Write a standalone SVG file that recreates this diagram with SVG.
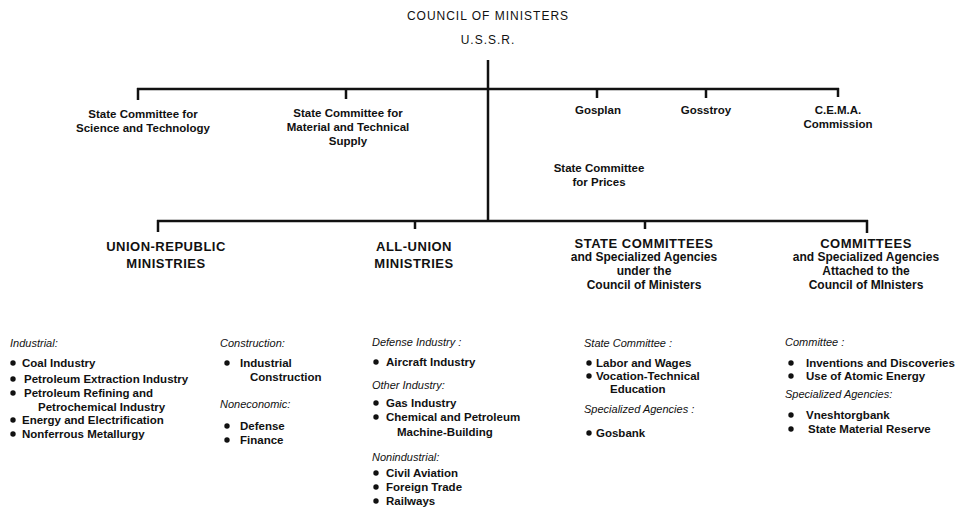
<svg xmlns="http://www.w3.org/2000/svg" width="957" height="510" viewBox="0 0 957 510">
<style>
text{font-family:"Liberation Sans",Arial,sans-serif;fill:#111}
.t{font-size:12px;letter-spacing:1px;text-anchor:middle}
.l{font-size:11.5px;font-weight:bold;text-anchor:middle}
.h{font-size:13px;font-weight:bold;text-anchor:middle;letter-spacing:0.5px}
.s{font-size:12px;font-weight:bold;text-anchor:middle}
.i{font-size:11px;font-style:italic}
.b{font-size:11.5px;font-weight:bold}
.c line{stroke:#111;stroke-width:2.5}
.d{fill:#111}
</style>
<rect width="957" height="510" fill="#fff"/>
<g id="connectors" class="c">
<line x1="488" y1="60" x2="488" y2="222"/>
<line x1="137" y1="89" x2="839" y2="89"/>
<line x1="138" y1="88" x2="138" y2="100"/>
<line x1="346" y1="88" x2="346" y2="99"/>
<line x1="597" y1="88" x2="597" y2="98"/>
<line x1="706" y1="88" x2="706" y2="98"/>
<line x1="838" y1="88" x2="838" y2="97"/>
<line x1="157" y1="221" x2="868" y2="221"/>
<line x1="158" y1="220" x2="158" y2="232"/>
<line x1="415" y1="220" x2="415" y2="229"/>
<line x1="645" y1="220" x2="645" y2="229"/>
<line x1="867" y1="220" x2="867" y2="233"/>
</g>
<g id="council">
<text class="t" x="488" y="20">COUNCIL OF MINISTERS</text>
<text class="t" x="488" y="44">U.S.S.R.</text>
</g>
<g id="sc-science">
<text class="l" x="143" y="118">State Committee for</text>
<text class="l" x="143" y="132">Science and Technology</text>
</g>
<g id="sc-supply">
<text class="l" x="348" y="117">State Committee for</text>
<text class="l" x="348" y="131">Material and Technical</text>
<text class="l" x="348" y="145">Supply</text>
</g>
<g id="gosplan"><text class="l" x="598" y="114">Gosplan</text></g>
<g id="gosstroy"><text class="l" x="706" y="114">Gosstroy</text></g>
<g id="cema">
<text class="l" x="838" y="114">C.E.M.A.</text>
<text class="l" x="838" y="128">Commission</text>
</g>
<g id="sc-prices">
<text class="l" x="599" y="172">State Committee</text>
<text class="l" x="599" y="186">for Prices</text>
</g>
<g id="union-republic">
<text class="h" x="166" y="251">UNION-REPUBLIC</text>
<text class="h" x="166" y="268">MINISTRIES</text>
</g>
<g id="all-union">
<text class="h" x="414" y="251">ALL-UNION</text>
<text class="h" x="414" y="268">MINISTRIES</text>
</g>
<g id="state-committees">
<text class="h" x="644" y="248">STATE COMMITTEES</text>
<text class="s" x="644" y="261">and Specialized Agencies</text>
<text class="s" x="644" y="275">under the</text>
<text class="s" x="644" y="289">Council of Ministers</text>
</g>
<g id="committees">
<text class="h" x="866" y="248">COMMITTEES</text>
<text class="s" x="866" y="261">and Specialized Agencies</text>
<text class="s" x="866" y="275">Attached to the</text>
<text class="s" x="866" y="289">Council of MInisters</text>
</g>
<g id="list-union-republic-industrial">
<text class="i" x="10" y="347">Industrial:</text>
<circle class="d" cx="13" cy="363" r="2.7"/><text class="b" x="22" y="367">Coal Industry</text>
<circle class="d" cx="13" cy="379" r="2.7"/><text class="b" x="24" y="383">Petroleum Extraction Industry</text>
<circle class="d" cx="13" cy="393" r="2.7"/><text class="b" x="24" y="397">Petroleum Refining and</text>
<text class="b" x="38" y="411">Petrochemical Industry</text>
<circle class="d" cx="13" cy="420" r="2.7"/><text class="b" x="22" y="424">Energy and Electrification</text>
<circle class="d" cx="13" cy="434" r="2.7"/><text class="b" x="22" y="438">Nonferrous Metallurgy</text>
</g>
<g id="list-union-republic-other">
<text class="i" x="220" y="347">Construction:</text>
<circle class="d" cx="227" cy="363" r="2.7"/><text class="b" x="240" y="367">Industrial</text>
<text class="b" x="250" y="381">Construction</text>
<text class="i" x="220" y="408">Noneconomic:</text>
<circle class="d" cx="227" cy="426" r="2.7"/><text class="b" x="240" y="430">Defense</text>
<circle class="d" cx="227" cy="440" r="2.7"/><text class="b" x="240" y="444">Finance</text>
</g>
<g id="list-all-union">
<text class="i" x="372" y="346">Defense Industry :</text>
<circle class="d" cx="376" cy="362" r="2.7"/><text class="b" x="386" y="366">Aircraft Industry</text>
<text class="i" x="372" y="389">Other Industry:</text>
<circle class="d" cx="376" cy="403" r="2.7"/><text class="b" x="386" y="407">Gas Industry</text>
<circle class="d" cx="376" cy="417" r="2.7"/><text class="b" x="386" y="421">Chemical and Petroleum</text>
<text class="b" x="397" y="436">Machine-Building</text>
<text class="i" x="372" y="461">Nonindustrial:</text>
<circle class="d" cx="376" cy="473" r="2.7"/><text class="b" x="386" y="477">Civil Aviation</text>
<circle class="d" cx="376" cy="487" r="2.7"/><text class="b" x="386" y="491">Foreign Trade</text>
<circle class="d" cx="376" cy="501" r="2.7"/><text class="b" x="386" y="505">Railways</text>
</g>
<g id="list-state-committees">
<text class="i" x="584" y="347">State Committee :</text>
<circle class="d" cx="589" cy="363" r="2.7"/><text class="b" x="596" y="367">Labor and Wages</text>
<circle class="d" cx="589" cy="376" r="2.7"/><text class="b" x="596" y="380">Vocation-Technical</text>
<text class="b" x="610" y="393">Education</text>
<text class="i" x="584" y="413">Specialized Agencies :</text>
<circle class="d" cx="589" cy="433" r="2.7"/><text class="b" x="596" y="437">Gosbank</text>
</g>
<g id="list-committees">
<text class="i" x="785" y="346">Committee :</text>
<circle class="d" cx="791" cy="363" r="2.7"/><text class="b" x="806" y="367">Inventions and Discoveries</text>
<circle class="d" cx="791" cy="376" r="2.7"/><text class="b" x="806" y="380">Use of Atomic Energy</text>
<text class="i" x="785" y="398">Specialized Agencies:</text>
<circle class="d" cx="791" cy="415" r="2.7"/><text class="b" x="806" y="419">Vneshtorgbank</text>
<circle class="d" cx="791" cy="429" r="2.7"/><text class="b" x="808" y="433">State Material Reserve</text>
</g>
</svg>
